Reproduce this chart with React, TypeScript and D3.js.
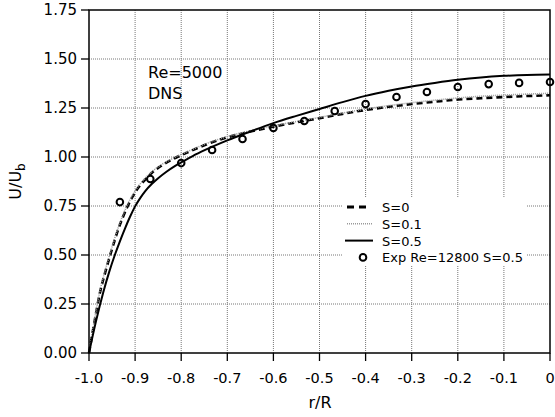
import React from "react";
import * as d3 from "d3";

const rS0 = [-1.0, -0.988, -0.976, -0.965, -0.954, -0.945, -0.936, -0.927, -0.918, -0.908, -0.897, -0.88, -0.864, -0.84, -0.813, -0.78, -0.75, -0.7, -0.65, -0.6, -0.55, -0.5, -0.45, -0.4, -0.35, -0.3, -0.25, -0.2, -0.15, -0.1, -0.05, 0];
const uS0 = [0, 0.16, 0.31, 0.41, 0.5, 0.57, 0.635, 0.69, 0.74, 0.787, 0.83, 0.88, 0.918, 0.96, 0.995, 1.03, 1.06, 1.1, 1.13, 1.155, 1.177, 1.198, 1.22, 1.24, 1.256, 1.27, 1.282, 1.293, 1.3, 1.306, 1.311, 1.315];
const uS01 = [0, 0.17, 0.32, 0.42, 0.51, 0.58, 0.644, 0.699, 0.749, 0.795, 0.838, 0.887, 0.924, 0.965, 0.999, 1.034, 1.064, 1.104, 1.134, 1.159, 1.181, 1.202, 1.224, 1.245, 1.262, 1.277, 1.29, 1.301, 1.31, 1.316, 1.321, 1.325];

const rS05 = [-1.0, -0.985, -0.969, -0.956, -0.944, -0.933, -0.922, -0.911, -0.9, -0.889, -0.878, -0.864, -0.85, -0.832, -0.813, -0.798, -0.775, -0.748, -0.7, -0.65, -0.6, -0.55, -0.5, -0.45, -0.4, -0.35, -0.3, -0.25, -0.2, -0.15, -0.1, -0.05, 0];
const uS05 = [0, 0.16, 0.31, 0.415, 0.5, 0.57, 0.635, 0.695, 0.748, 0.79, 0.826, 0.862, 0.892, 0.925, 0.955, 0.975, 1.005, 1.036, 1.085, 1.13, 1.173, 1.21, 1.245, 1.28, 1.312, 1.338, 1.36, 1.378, 1.394, 1.406, 1.414, 1.419, 1.421];

const rExp = [-0.933, -0.867, -0.8, -0.733, -0.667, -0.6, -0.533, -0.467, -0.4, -0.333, -0.267, -0.2, -0.133, -0.067, 0];
const uExp = [0.77, 0.888, 0.969, 1.036, 1.092, 1.148, 1.184, 1.235, 1.27, 1.306, 1.332, 1.357, 1.372, 1.378, 1.383];

const xTicks = [-1.0, -0.9, -0.8, -0.7, -0.6, -0.5, -0.4, -0.3, -0.2, -0.1, 0];
const xTickLabels = ["-1.0", "-0.9", "-0.8", "-0.7", "-0.6", "-0.5", "-0.4", "-0.3", "-0.2", "-0.1", "0"];
const yTicks = [0, 0.25, 0.5, 0.75, 1.0, 1.25, 1.5, 1.75];
const yTickLabels = ["0.00", "0.25", "0.50", "0.75", "1.00", "1.25", "1.50", "1.75"];
const legendLabels = ["S=0", "S=0.1", "S=0.5", "Exp Re=12800 S=0.5"];

const W = 555, H = 417;
const L = 89, R = 550, T = 10, B = 353;
const FONT = "DejaVu Sans";

export default function App() {
  const x = d3.scaleLinear().domain([-1, 0]).range([L, R]);
  const y = d3.scaleLinear().domain([0, 1.75]).range([B, T]);
  const line = (rs: number[], us: number[]) =>
    d3.line<number>().x((_, i) => x(rs[i])).y((u) => y(u)).curve(d3.curveMonotoneX)(us) || "";

  const lx = 345, ly = 207, lstep = 16.8;

  return (
    <svg width={W} height={H} style={{ position: "absolute", left: 0, top: 0, background: "#fff" }} fontFamily={FONT}>
      <rect x={0} y={0} width={W} height={H} fill="#fff" />
      {xTicks.slice(1, -1).map((t) => (
        <line key={"gx" + t} x1={x(t)} x2={x(t)} y1={T} y2={B} stroke="#777" strokeWidth={1} strokeDasharray="1,1" />
      ))}
      {yTicks.slice(1, -1).map((t) => (
        <line key={"gy" + t} x1={L} x2={R} y1={y(t)} y2={y(t)} stroke="#777" strokeWidth={1} strokeDasharray="1,1" />
      ))}
      <rect x={343} y={198} width={184} height={68} fill="#fff" />
      <path d={line(rS0, uS0)} fill="none" stroke="#000" strokeWidth={2.6} strokeDasharray="6,4" />
      <path d={line(rS0, uS01)} fill="none" stroke="#999" strokeWidth={1.6} strokeDasharray="1,1" />
      <path d={line(rS05, uS05)} fill="none" stroke="#000" strokeWidth={2} />
      {rExp.map((r, i) => (
        <circle key={"e" + i} cx={x(r)} cy={y(uExp[i])} r={3.3} fill="none" stroke="#000" strokeWidth={2} />
      ))}
      <rect x={L} y={T} width={R - L} height={B - T} fill="none" stroke="#000" strokeWidth={1.5} />
      {xTicks.map((t, i) => (
        <g key={"xt" + t}>
          <line x1={x(t)} x2={x(t)} y1={B} y2={B + 8} stroke="#000" strokeWidth={1.3} />
          <text x={x(t)} y={383} textAnchor="middle" fontSize={14.5}>{xTickLabels[i]}</text>
        </g>
      ))}
      {yTicks.map((t, i) => (
        <g key={"yt" + t}>
          <line x1={L - 8} x2={L} y1={y(t)} y2={y(t)} stroke="#000" strokeWidth={1.3} />
          <text x={77} y={y(t) + 5.2} textAnchor="end" fontSize={15}>{yTickLabels[i]}</text>
        </g>
      ))}
      <text x={320} y={408} textAnchor="middle" fontSize={16}>r/R</text>
      <text transform={`translate(21,${(T + B) / 2}) rotate(-90)`} textAnchor="middle" fontSize={16}>
        U/U<tspan fontSize={12} dy={4}>b</tspan>
      </text>
      <text x={148} y={78} fontSize={16}>Re=5000</text>
      <text x={148} y={99} fontSize={16}>DNS</text>
      <line x1={lx + 2} x2={lx + 24} y1={ly} y2={ly} stroke="#000" strokeWidth={3} strokeDasharray="7,5" />
      <line x1={lx + 2} x2={lx + 28} y1={ly + lstep} y2={ly + lstep} stroke="#999" strokeWidth={1.6} strokeDasharray="1,1" />
      <line x1={lx} x2={lx + 28} y1={ly + 2 * lstep} y2={ly + 2 * lstep} stroke="#000" strokeWidth={2} />
      <circle cx={lx + 18} cy={ly + 3 * lstep} r={3.3} fill="none" stroke="#000" strokeWidth={2} />
      {legendLabels.map((s, i) => (
        <text key={s} x={382} y={ly + i * lstep + 5} fontSize={13}>{s}</text>
      ))}
    </svg>
  );
}
